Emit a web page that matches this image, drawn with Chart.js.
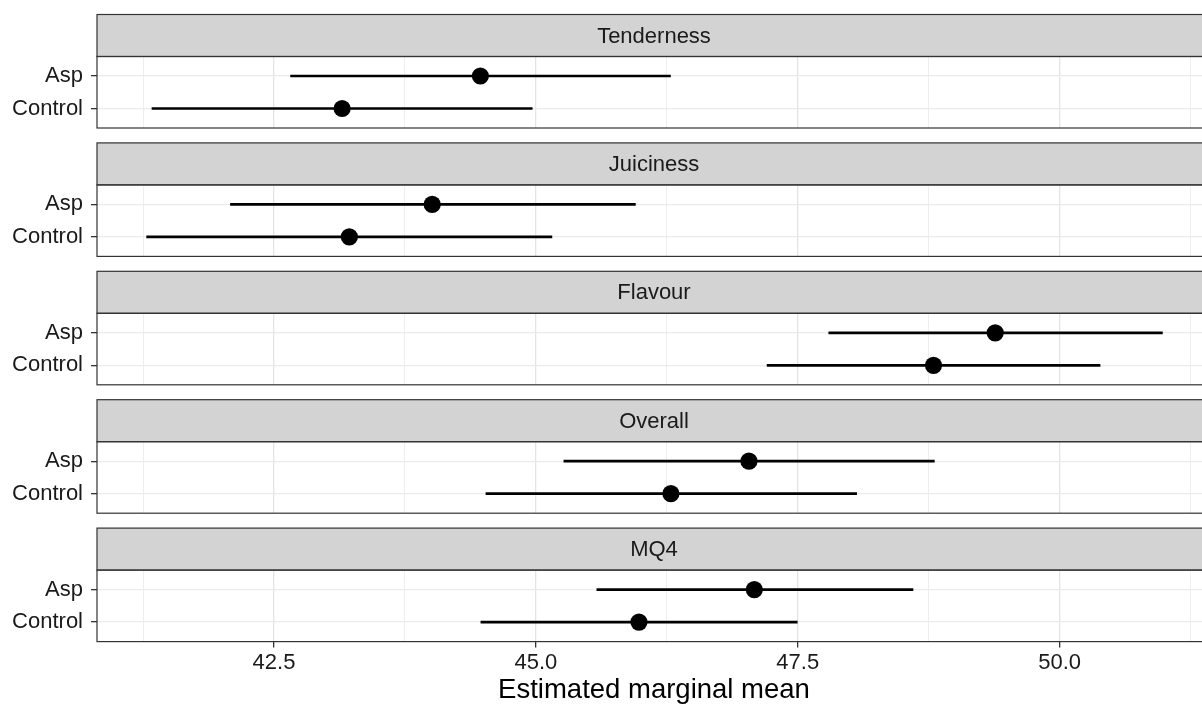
<!DOCTYPE html>
<html><head><meta charset="utf-8">
<script src="https://cdn.jsdelivr.net/npm/chart.js@4/dist/chart.umd.min.js"></script>
<style>
html,body{margin:0;padding:0;background:#fff;}
#wrap{position:relative;width:1202px;height:708px;overflow:hidden;background:#fff;}
#wrap canvas{position:absolute;left:0;}
</style></head><body><div id="wrap"></div>
<script>
// ---- data ----
const facets = ['Tenderness', 'Juiciness', 'Flavour', 'Overall', 'MQ4'];
const groups = ['Asp', 'Control'];
const aspMean  = [44.47, 44.01, 49.385, 47.034, 47.085];
const aspLower = [42.658, 42.084, 47.796, 45.267, 45.582];
const aspUpper = [46.285, 45.95, 50.981, 48.804, 48.60];
const ctlMean  = [43.15, 43.219, 48.796, 46.289, 45.984];
const ctlLower = [41.335, 41.284, 47.207, 44.523, 44.475];
const ctlUpper = [44.965, 45.153, 50.386, 48.062, 47.495];
const majorTicks = [42.5, 45.0, 47.5, 50.0];
const minorTicks = [41.25, 43.75, 46.25, 48.75, 51.25];
const xTitle = 'Estimated marginal mean';
const xMin = 40.81, xMax = 51.445;

// ---- layout ----
const FAMILY = '"Liberation Sans", Arial, Helvetica, sans-serif';
Chart.defaults.font.family = FAMILY;
const H = 708, CW = 1212, LEFT = 97, RIGHTPAD = 1;
const STRIP0 = 14.5, PITCH = 128.4, STRIPH = 42, PLOTH = 71.5;

const facetPlugin = {
  id: 'facet',
  afterDraw(chart, args, opts) {
    const { ctx, chartArea: a } = chart;
    const st = a.top - opts.stripH;
    ctx.save();
    ctx.fillStyle = '#d3d3d3';
    ctx.fillRect(a.left, st, a.right - a.left + 5, opts.stripH);
    ctx.strokeStyle = '#333333';
    ctx.lineWidth = 1.2;
    ctx.strokeRect(a.left, st, a.right - a.left + 5, opts.stripH);
    ctx.strokeRect(a.left, a.top, a.right - a.left + 5, a.bottom - a.top);
    ctx.fillStyle = '#1a1a1a';
    ctx.font = '22px ' + FAMILY;
    ctx.textAlign = 'center';
    ctx.textBaseline = 'middle';
    ctx.fillText(opts.label, (a.left + a.right) / 2, st + opts.stripH / 2 + 1);
    ctx.restore();
  }
};

const wrap = document.getElementById('wrap');
facets.forEach((name, i) => {
  const last = i === facets.length - 1;
  const stripTop = STRIP0 + PITCH * i;
  const plotTop = stripTop + STRIPH;
  const plotBottom = plotTop + PLOTH;
  const canvasTop = Math.floor(stripTop) - 2;
  const canvasH = last ? H - canvasTop : Math.ceil(plotBottom) + 3 - canvasTop;
  const padTop = plotTop - canvasTop;
  const padBottom = last ? 0 : canvasH - (plotBottom - canvasTop);
  const xAxisH = last ? H - plotBottom : 0;

  const cv = document.createElement('canvas');
  cv.width = CW; cv.height = canvasH;
  cv.style.top = canvasTop + 'px';
  cv.style.width = CW + 'px'; cv.style.height = canvasH + 'px';
  wrap.appendChild(cv);

  const lower = [aspLower[i], ctlLower[i]];
  const upper = [aspUpper[i], ctlUpper[i]];
  const mean = [aspMean[i], ctlMean[i]];
  const isMajor = c => c.tick && majorTicks.includes(c.tick.value);

  new Chart(cv, {
    type: 'bar',
    data: {
      datasets: [
        {
          type: 'scatter',
          data: groups.map((g, j) => ({ x: mean[j], y: j })),
          pointRadius: 8.6,
          pointBackgroundColor: '#000',
          pointBorderWidth: 0,
          showLine: false,
          clip: false,
          order: 0
        },
        {
          type: 'bar',
          indexAxis: 'y',
          data: groups.map((g, j) => ({ x: [lower[j], upper[j]], y: j })),
          backgroundColor: '#000',
          borderWidth: 0,
          barThickness: 2,
          order: 1
        }
      ]
    },
    options: {
      indexAxis: 'y',
      responsive: false,
      animation: false,
      events: [],
      devicePixelRatio: 1,
      layout: { autoPadding: false, padding: { top: padTop, bottom: padBottom, left: 0, right: RIGHTPAD } },
      plugins: {
        legend: { display: false },
        tooltip: { enabled: false },
        facet: { label: name, stripH: STRIPH }
      },
      scales: {
        x: {
          type: 'linear', min: xMin, max: xMax, offset: false,
          afterBuildTicks: s => {
            s.ticks = [...minorTicks, ...majorTicks].sort((a, b) => a - b).map(v => ({ value: v }));
          },
          afterFit: s => {
            s.height = xAxisH;
            s.paddingLeft = 0; s.paddingRight = 0; s.paddingTop = 0; s.paddingBottom = 0;
          },
          ticks: {
            display: last,
            autoSkip: false, maxRotation: 0, minRotation: 0,
            callback: v => majorTicks.includes(v) ? Number(v).toFixed(1) : '',
            font: { size: 22 }, color: '#1a1a1a', padding: 2
          },
          grid: {
            offset: false,
            color: c => isMajor(c) ? '#e4e4e4' : '#eeeeee',
            lineWidth: c => isMajor(c) ? 1.3 : 1,
            drawTicks: last,
            tickLength: 6,
            tickColor: c => isMajor(c) ? '#333333' : 'rgba(0,0,0,0)',
            tickWidth: 1.3
          },
          border: { display: false },
          title: {
            display: last, text: xTitle, color: '#000',
            font: { size: 27.5 }, padding: { top: 0, bottom: 1 }
          }
        },
        y: {
          type: 'linear', reverse: true, min: -0.6, max: 1.6, offset: false,
          afterBuildTicks: s => { s.ticks = groups.map((g, j) => ({ value: j })); },
          afterFit: s => {
            s.width = LEFT;
            s.paddingLeft = 0; s.paddingRight = 0; s.paddingTop = 0; s.paddingBottom = 0;
          },
          ticks: {
            autoSkip: false,
            callback: v => groups[v],
            font: { size: 22 }, color: '#1a1a1a', padding: 8
          },
          grid: {
            offset: false,
            color: '#ebebeb', lineWidth: 1.3,
            drawTicks: true, tickLength: 6, tickColor: '#333333', tickWidth: 1.3
          },
          border: { display: false }
        }
      }
    },
    plugins: [facetPlugin]
  });
});
</script>
</body></html>
